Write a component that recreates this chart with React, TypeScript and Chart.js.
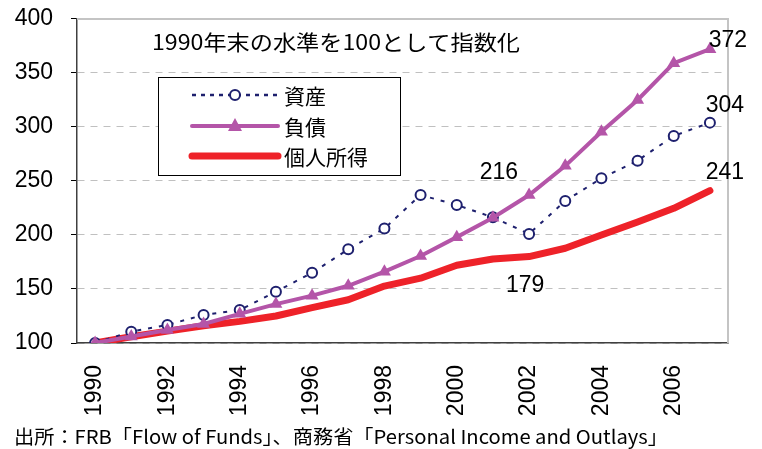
import React, { useEffect, useRef } from "react";
import { Chart, registerables } from "chart.js";
Chart.register(...registerables);

const years = ["1990","1991","1992","1993","1994","1995","1996","1997","1998","1999","2000","2001","2002","2003","2004","2005","2006","2007"];
const assets = [100,110.5,116.7,126,130.5,147.5,165,186.7,206,237,227.8,216.3,201,231.5,252.5,268.8,291.7,304];
const debt = [100,106,112,117.6,127,136,143.8,153,166,180.5,198,216,237,264,295.6,325,359,372];
const income = [100,105.8,111,116,120,125,132.7,140,152.7,160,172,177.8,180,187.7,200,212,224.7,241];
const seriesNames = ["資産", "負債", "個人所得"];
const titleText = "1990年末の水準を100として指数化";
const sourceText = "出所：FRB「Flow of Funds」、商務省「Personal Income and Outlays」";
// callouts: [series, index, text, dx, dy]
const callouts: [number, number, string, number, number][] = [
  [1, 17, "372", 18, -9],
  [0, 17, "304", 15, -17],
  [2, 17, "241", 15, -18],
  [1, 11, "216", 6, -45],
  [2, 12, "179", -4, 29],
];

const NAVY = "#1e206e";
const PURPLE = "#b455a8";
const RED = "#ee2229";
const NUM_FAMILY = "'Liberation Sans', Arial, sans-serif";
const NUM_FONT = "23px " + NUM_FAMILY;
const JP_FONT = "'Noto Sans CJK JP', sans-serif";

function fitText(ctx: CanvasRenderingContext2D, text: string, x: number, y: number, w: number) {
  const m = ctx.measureText(text).width;
  ctx.save();
  ctx.translate(x, y);
  ctx.scale(w / m, 1);
  ctx.fillText(text, 0, 0);
  ctx.restore();
}

const decor = {
  id: "decor",
  afterDatasetsDraw(chart: any) {
    const ctx: CanvasRenderingContext2D = chart.ctx;
    const a = chart.chartArea;
    ctx.save();
    // top & right frame
    ctx.strokeStyle = "#c4c4c4";
    ctx.lineWidth = 2;
    ctx.beginPath();
    ctx.moveTo(a.left, a.top);
    ctx.lineTo(a.right, a.top);
    ctx.lineTo(a.right, a.bottom);
    ctx.stroke();

    // title
    ctx.fillStyle = "#000";
    ctx.textBaseline = "middle";
    ctx.textAlign = "left";
    ctx.font = "21px " + JP_FONT;
    fitText(ctx, titleText, 152, 42, 368);

    // callouts
    const xs = chart.scales.x;
    const ys = chart.scales.y;
    const dataArr = [assets, debt, income];
    ctx.font = NUM_FONT;
    ctx.textAlign = "center";
    for (const [s, i, t, dx, dy] of callouts) {
      const px = xs.getPixelForValue(i);
      const py = ys.getPixelForValue(dataArr[s][i]);
      ctx.fillText(t, px + dx, py + dy);
    }

    // legend
    const lx = 158, ly = 77, lw = 242, lh = 98;
    ctx.fillStyle = "#fff";
    ctx.fillRect(lx, ly, lw, lh);
    ctx.strokeStyle = "#000";
    ctx.lineWidth = 1;
    ctx.strokeRect(lx + 0.5, ly + 0.5, lw, lh);
    const rows = [95, 126, 156];
    const sx0 = 192, sx1 = 278, sxc = 235;
    ctx.strokeStyle = NAVY;
    ctx.lineWidth = 2.5;
    ctx.setLineDash([4, 5]);
    ctx.beginPath();
    ctx.moveTo(sx0, rows[0]);
    ctx.lineTo(sx1, rows[0]);
    ctx.stroke();
    ctx.setLineDash([]);
    ctx.fillStyle = "#fff";
    ctx.lineWidth = 2;
    ctx.beginPath();
    ctx.arc(sxc, rows[0], 5, 0, Math.PI * 2);
    ctx.fill();
    ctx.stroke();
    ctx.strokeStyle = PURPLE;
    ctx.lineWidth = 4;
    ctx.lineCap = "round";
    ctx.beginPath();
    ctx.moveTo(sx0, rows[1]);
    ctx.lineTo(sx1, rows[1]);
    ctx.stroke();
    ctx.fillStyle = PURPLE;
    ctx.beginPath();
    ctx.moveTo(sxc, rows[1] - 8);
    ctx.lineTo(sxc + 7, rows[1] + 5);
    ctx.lineTo(sxc - 7, rows[1] + 5);
    ctx.closePath();
    ctx.fill();
    ctx.strokeStyle = RED;
    ctx.lineWidth = 7;
    ctx.beginPath();
    ctx.moveTo(sx0, rows[2]);
    ctx.lineTo(sx1, rows[2]);
    ctx.stroke();
    ctx.lineCap = "butt";
    ctx.fillStyle = "#000";
    ctx.textAlign = "left";
    ctx.font = "21px " + JP_FONT;
    seriesNames.forEach((n, k) => ctx.fillText(n, 284, rows[k] + 1));

    // source
    ctx.font = "19px " + JP_FONT;
    fitText(ctx, sourceText, 14, 437, 654);
    ctx.restore();
  },
};

export default function App() {
  const ref = useRef<HTMLCanvasElement>(null);
  useEffect(() => {
    if (!ref.current) return;
    const chart = new Chart(ref.current, {
      type: "line",
      data: {
        labels: years,
        datasets: [
          {
            label: seriesNames[0],
            data: assets,
            borderColor: NAVY,
            borderWidth: 2,
            borderDash: [4, 7],
            pointStyle: "circle",
            pointRadius: 5,
            pointBorderWidth: 2,
            pointBackgroundColor: "#fff",
            pointBorderColor: NAVY,
            tension: 0,
            order: 1,
          },
          {
            label: seriesNames[1],
            data: debt,
            borderColor: PURPLE,
            borderWidth: 4,
            pointStyle: "triangle",
            pointRadius: 7.5,
            pointBorderWidth: 0,
            pointBackgroundColor: PURPLE,
            pointBorderColor: PURPLE,
            tension: 0,
            order: 0,
          },
          {
            label: seriesNames[2],
            data: income,
            borderColor: RED,
            borderWidth: 7,
            pointRadius: 0,
            borderCapStyle: "round",
            borderJoinStyle: "round",
            tension: 0,
            order: 2,
          },
        ],
      },
      options: {
        animation: false,
        responsive: true,
        maintainAspectRatio: false,
        layout: { padding: { left: 0, top: 0, right: 34, bottom: 0 } },
        plugins: { legend: { display: false }, tooltip: { enabled: false }, title: { display: false } },
        scales: {
          x: {
            type: "category",
            offset: true,
            grid: { display: false, drawTicks: false },
            border: { display: true, color: "#404040", width: 1.5 },
            ticks: {
              autoSkip: false,
              maxRotation: 90,
              minRotation: 90,
              padding: 22,
              color: "#000",
              font: { family: NUM_FAMILY, size: 23 },
              callback: (v: any, i: number) => (i % 2 === 0 ? years[i] : ""),
            },
            afterFit: (s: any) => { s.height = 106; },
          },
          y: {
            min: 100,
            max: 400,
            grid: {
              color: "#c0c0c0",
              lineWidth: 1,
              tickColor: "#000",
              tickLength: 6,
              tickBorderDash: [],
              tickWidth: 1,
            },
            border: { display: true, color: "#404040", width: 1.5, dash: [7, 6] },
            ticks: {
              stepSize: 50,
              padding: 18,
              color: "#000",
              font: { family: NUM_FAMILY, size: 23, lineHeight: 0.08 },
            },
            afterFit: (s: any) => { s.width = 77; },
          },
        },
      },
      plugins: [decor],
    });
    return () => chart.destroy();
  }, []);
  return (
    <div style={{ position: "fixed", left: 0, top: 0, width: 762, height: 449, background: "#fff" }}>
      <canvas ref={ref} />
    </div>
  );
}
